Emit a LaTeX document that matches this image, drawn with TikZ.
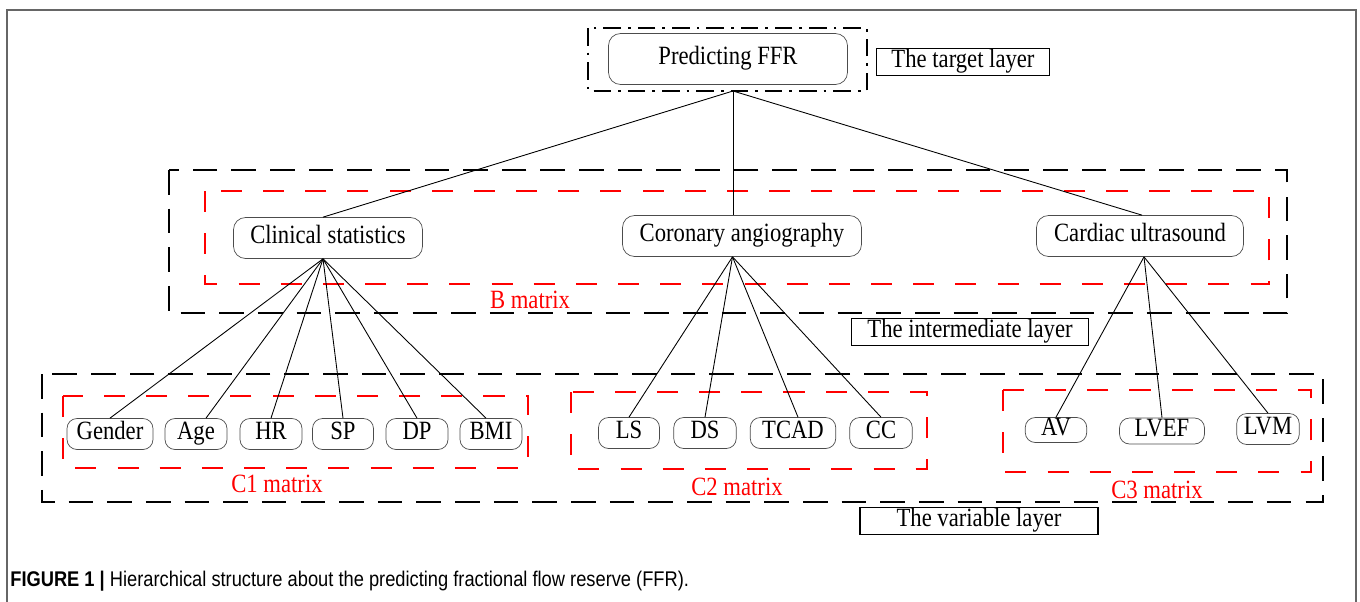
\documentclass[tikz,border=0pt]{standalone}
\usepackage{fontspec}
\setmainfont{Liberation Serif}[FakeStretch=0.86]
\newfontfamily\capfont{Liberation Sans}[FakeStretch=0.86]
\usepackage{tikz}
\usetikzlibrary{positioning}

\begin{document}
\begin{tikzpicture}
    [ x = .02cm, y = -.02cm
    , every node/.style =
      { font=\fontsize{15}{18}\selectfont }
    , factor/.style =
      { draw=black!70, rounded corners=.24cm, inner sep=0pt, minimum height=.82cm
      , text height=10pt, text depth=3.2pt }
    , item/.style =
      { draw=black!70, rounded corners=.2cm, inner sep=0pt, minimum height=.62cm
      , text height=10pt, text depth=3.2pt }
    , layer/.style =
      { draw, line width=1.1pt, inner sep=0pt, minimum height=.54cm
      , text height=10pt, text depth=3.2pt }
    , outer/.style =
      { line width=1.1pt, dash pattern=on 14pt off 8pt }
    , inner/.style =
      { red, line width=1.1pt, dash pattern=on 12pt off 12pt }
    , target/.style =
      { line width=1.1pt, dash pattern=on 10pt off 4pt on 1.5pt off 4pt }
    , matrixlabel/.style =
      { text=red }
    , edge/.style =
      { line width=.5pt }
    ]
    \useasboundingbox (0,0) rectangle (1360,602);
    \draw [black!60, line width=.8pt] (7,602) -- (7,10) -- (1356,10) -- (1356,602);

    % boxes
    \draw [target] (588,28) rectangle (867,91);
    \draw [outer] (169,170) rectangle (1287,313);
    \draw [inner] (205,191) rectangle (1269,284);
    \draw [outer] (42,374) rectangle (1323,502);
    \draw [inner] (63,396) rectangle (528,468);
    \draw [inner] (571,392) rectangle (927,469);
    \draw [inner] (1003,390) rectangle (1311,472);

    % target layer
    \node [factor, minimum width=4.78cm, minimum height=1.02cm] (ffr) at (728,59) {Predicting FFR};
    \coordinate (root) at (733,91);

    % intermediate layer
    \node [factor, minimum width=3.78cm] (clin) at (328,238) {Clinical statistics};
    \node [factor, minimum width=4.78cm] (coro) at (742,236) {Coronary angiography};
    \node [factor, minimum width=4.14cm] (card) at (1140,236) {Cardiac ultrasound};

    % variable layer
    \node [item, minimum width=1.72cm] (gender) at (110,434) {Gender};
    \node [item, minimum width=1.24cm] (age) at (196,434) {Age};
    \node [item, minimum width=1.24cm] (hr) at (271,434) {HR};
    \node [item, minimum width=1.22cm] (sp) at (343,434) {SP};
    \node [item, minimum width=1.24cm] (dp) at (417,434) {DP};
    \node [item, minimum width=1.24cm] (bmi) at (491,434) {BMI};
    \node [item, minimum width=1.22cm] (ls) at (629,433) {LS};
    \node [item, minimum width=1.25cm] (ds) at (705,433) {DS};
    \node [item, minimum width=1.71cm] (tcad) at (793,433) {TCAD};
    \node [item, minimum width=1.25cm] (cc) at (881,433) {CC};
    \node [item, minimum width=1.23cm, minimum height=.5cm] (av) at (1056,430) {AV};
    \node [item, minimum width=1.70cm, minimum height=.52cm] (lvef) at (1162,431) {LVEF};
    \node [item, minimum width=1.25cm] (lvm) at (1268,429) {LVM};

    % matrix labels
    \node [matrixlabel] (bm) at (530,300) {B matrix};
    \node [matrixlabel] (c1m) at (277,484) {C1 matrix};
    \node [matrixlabel] (c2m) at (737,487) {C2 matrix};
    \node [matrixlabel] (c3m) at (1157,490) {C3 matrix};

    % layer names
    \node [layer, minimum width=3.46cm] (tl) at (963,62) {The target layer};
    \node [layer, minimum width=4.74cm] (il) at (970,332) {The intermediate layer};
    \node [layer, minimum width=4.76cm] (vl) at (979,521) {The variable layer};

    % caption
    \node [anchor=west, inner sep=0pt, font=\capfont\fontsize{12.1}{14}\selectfont] (cap) at (10,581)
      {\textbf{FIGURE 1 |} Hierarchical structure about the predicting fractional flow reserve (FFR).};

    \draw [edge] (root) -- ([xshift=-.1cm]clin.north);
    \draw [edge] (root) -- (coro.north -| root);
    \draw [edge] (root) -- ([xshift=.04cm]card.north);

    \draw [edge] ([xshift=-.1cm]clin.south) -- (gender.north);
    \draw [edge] ([xshift=-.1cm]clin.south) -- ([xshift=.2cm]age.north);
    \draw [edge] ([xshift=-.1cm]clin.south) -- (hr.north);
    \draw [edge] ([xshift=-.1cm]clin.south) -- (sp.north);
    \draw [edge] ([xshift=-.1cm]clin.south) -- (dp.north);
    \draw [edge] ([xshift=-.1cm]clin.south) -- ([xshift=-.1cm]bmi.north);

    \draw [edge] ([xshift=-.19cm]coro.south) -- (ls.north);
    \draw [edge] ([xshift=-.19cm]coro.south) -- (ds.north);
    \draw [edge] ([xshift=-.19cm]coro.south) -- ([xshift=.1cm]tcad.north);
    \draw [edge] ([xshift=-.19cm]coro.south) -- (cc.north);

    \draw [edge] ([xshift=.08cm]card.south) -- (av.north);
    \draw [edge] ([xshift=.08cm]card.south) -- (lvef.north);
    \draw [edge] ([xshift=.08cm]card.south) -- (lvm.north);
  \end{tikzpicture}
\end{document}
